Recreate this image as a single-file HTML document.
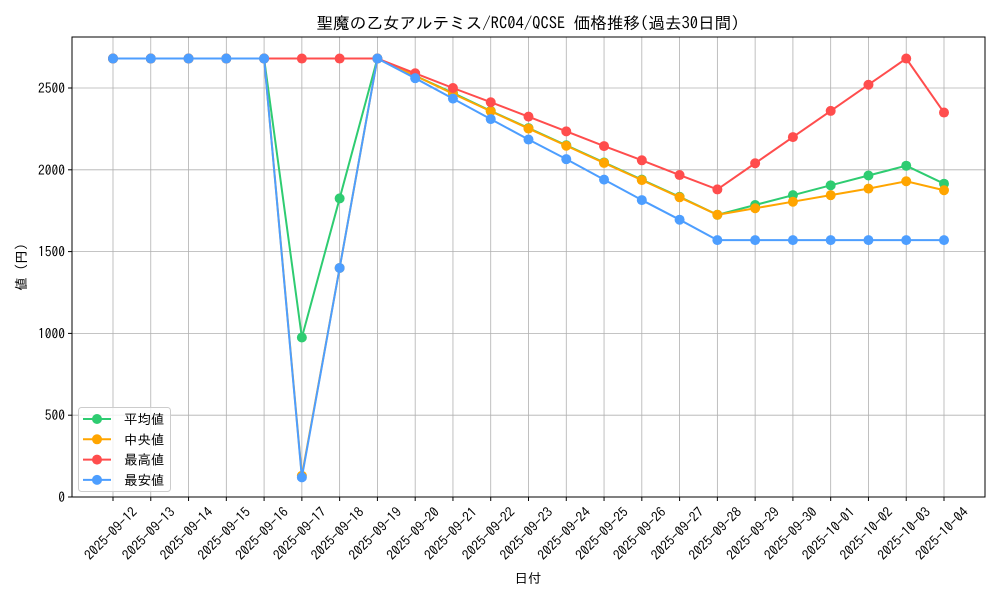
<!DOCTYPE html>
<html><head><meta charset="utf-8"><style>
body{margin:0;background:#fff}
svg text{font-family:"IPAGothic","Liberation Sans",sans-serif;fill:#000}
</style></head><body>
<svg id="s" width="1000" height="600" xmlns="http://www.w3.org/2000/svg"></svg>
<script>
const L=72,R=985,T=37,B=497;
const X=i=>113+i*(944-113)/22, Y=v=>497-v*0.1636;
let h='';
h+='<rect x="0" y="0" width="1000" height="600" fill="#fff"/>';
const dates=[];for(let d=12;d<=30;d++)dates.push('2025-09-'+d);for(let d=1;d<=4;d++)dates.push('2025-10-0'+d);
for(let i=0;i<23;i++){const x=X(i);h+=`<line x1="${x}" y1="${T}" x2="${x}" y2="${B}" stroke="#b0b0b0" stroke-width="0.8"/><line x1="${x}" y1="${B}" x2="${x}" y2="${B+4}" stroke="#000"/>`;
h+=`<text font-size="13.5" text-anchor="end" transform="translate(${x+25},${B+16}) rotate(-45)">${dates[i]}</text>`;}
for(let v=0;v<=2500;v+=500){const y=Y(v);h+=`<line x1="${L}" y1="${y}" x2="${R}" y2="${y}" stroke="#b0b0b0" stroke-width="0.8"/><line x1="${L-4}" y1="${y}" x2="${L}" y2="${y}" stroke="#000"/><text font-size="13.5" x="${L-7}" y="${y+5}" text-anchor="end">${v}</text>`;}
const S=[
['#2ecc71',[2680,2680,2680,2680,2680,975,1825,2680,2575,2470,2360,2255,2150,2045,1940,1835,1725,1785,1845,1905,1965,2025,1915]],
['#ffa500',[2680,2680,2680,2680,2680,130,1400,2680,2575,2465,2358,2252,2147,2042,1937,1832,1725,1765,1805,1845,1885,1930,1875]],
['#ff4d4d',[2680,2680,2680,2680,2680,2680,2680,2680,2590,2500,2413,2325,2235,2145,2058,1968,1880,2040,2200,2360,2520,2680,2350]],
['#4d9eff',[2680,2680,2680,2680,2680,120,1400,2680,2560,2435,2310,2185,2065,1940,1815,1695,1570,1570,1570,1570,1570,1570,1570]]];
for(const [c,d] of S){h+=`<polyline fill="none" stroke="${c}" stroke-width="2" points="${d.map((v,i)=>X(i)+','+Y(v)).join(' ')}"/>`;
d.forEach((v,i)=>h+=`<circle cx="${X(i)}" cy="${Y(v)}" r="5" fill="${c}"/>`);}
h+=`<rect x="${L}" y="${T}" width="${R-L}" height="${B-T}" fill="none" stroke="#000" stroke-width="1"/>`;
h+=`<rect x="78.5" y="407.5" width="92" height="84" rx="3" fill="#fff" fill-opacity="0.8" stroke="#ccc"/>`;
const names=['平均値','中央値','最高値','最安値'];
names.forEach((n,i)=>{const y=419+i*20.3;h+=`<line x1="83" y1="${y}" x2="111" y2="${y}" stroke="${S[i][0]}" stroke-width="2"/><circle cx="97" cy="${y}" r="5" fill="${S[i][0]}"/><text font-size="13.5" x="124" y="${y+5}">${n}</text>`;});
h+=`<text font-size="16.6" x="528" y="29" text-anchor="middle">聖魔の乙女アルテミス/RC04/QCSE 価格推移(過去30日間)</text>`;
h+=`<text font-size="13.5" x="528" y="583" text-anchor="middle">日付</text>`;
h+=`<text font-size="13.5" text-anchor="middle" transform="translate(26,267) rotate(-90)">値 (円)</text>`;
document.getElementById('s').innerHTML=h;
</script>
</body></html>
